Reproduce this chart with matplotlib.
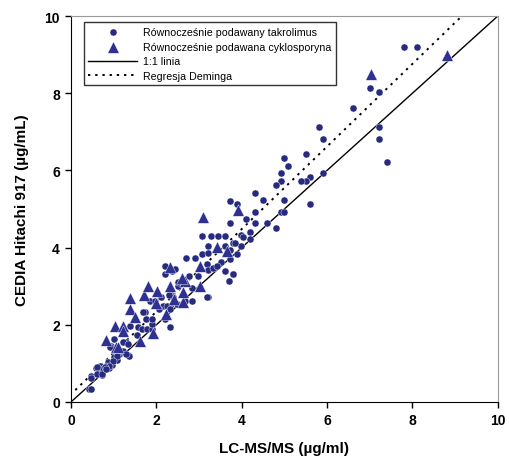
import numpy as np
from matplotlib import pyplot as plt

# Równocześnie podawany takrolimus (x: LC-MS/MS, y: CEDIA)
tac_x = [7.81, 8.10, 7.00, 7.21, 6.60, 7.21, 7.21, 7.40, 5.82, 5.90, 5.50, 5.00,
         5.09, 4.92, 5.90, 5.60, 5.50, 5.40, 4.92, 4.80, 4.31, 4.51, 5.00, 5.60,
         3.72, 3.90, 4.31, 4.92, 5.00, 4.10, 3.72, 4.31, 4.60, 4.80, 3.99, 4.19,
         4.19, 3.79, 3.99, 3.72, 3.90, 3.72, 3.79,
         3.08, 3.29, 3.45, 3.61, 3.20, 3.61, 3.84, 4.04, 2.69, 2.90, 3.08, 3.22,
         3.51, 3.18, 2.20, 2.20, 2.36, 2.44, 3.22, 3.33, 3.41, 3.61, 3.80, 2.98,
         2.77, 3.71, 2.51, 2.51, 2.83, 3.22, 3.18, 2.32, 2.40, 2.12, 2.32, 2.48,
         2.67, 2.83, 2.32, 2.16,
         1.73, 1.76, 1.58, 1.54, 2.20, 2.24, 2.06, 1.66, 1.85, 1.97, 2.30, 1.38,
         1.77, 1.89, 1.69, 1.89, 1.89, 2.32, 1.01, 1.30, 0.94, 1.17, 1.34, 1.01,
         1.07, 0.86, 0.95, 0.68, 0.81, 0.89, 0.58, 0.72, 0.64, 0.72, 0.47, 0.48,
         1.37, 1.22, 1.30, 1.07, 0.99, 0.90, 0.80, 0.60, 0.60, 0.72, 0.82, 1.22,
         1.34, 0.91, 0.41, 0.48]
tac_y = [9.21, 9.21, 8.13, 8.02, 7.62, 7.13, 6.81, 6.21, 7.13, 6.81, 6.42, 6.33,
         6.11, 5.92, 5.92, 5.82, 5.73, 5.73, 5.73, 5.63, 5.41, 5.22, 5.22, 5.12,
         5.21, 5.12, 4.93, 4.93, 4.93, 4.73, 4.64, 4.64, 4.64, 4.51, 4.32, 4.41,
         4.22, 4.13, 4.03, 3.94, 3.84, 3.70, 3.32,
         4.31, 4.31, 4.31, 4.31, 4.05, 4.05, 4.12, 4.27, 3.72, 3.72, 3.83, 3.85,
         3.63, 3.58, 3.52, 3.32, 3.40, 3.45, 3.43, 3.46, 3.52, 3.40, 3.32, 3.26,
         3.26, 3.14, 3.01, 3.10, 2.95, 2.71, 2.71, 2.82, 2.71, 2.71, 2.49, 2.54,
         2.62, 2.62, 1.94, 2.49,
         2.34, 2.15, 1.94, 1.74, 2.15, 2.49, 2.41, 1.89, 2.62, 2.62, 2.77, 1.98,
         1.89, 1.89, 2.32, 2.02, 2.15, 2.41, 1.63, 1.56, 1.46, 1.30, 1.22, 1.16,
         1.10, 1.03, 0.96, 0.94, 0.92, 0.87, 0.87, 0.85, 0.75, 0.70, 0.67, 0.62,
         1.20, 1.33, 1.24, 1.20, 1.07, 0.94, 0.90, 0.90, 0.72, 0.72, 0.85, 1.55,
         1.50, 1.42, 0.34, 0.34]

# Równocześnie podawana cyklosporyna
csa_x = [0.82, 1.03, 1.22, 1.22, 1.05, 1.11, 1.38, 1.38, 1.50, 1.62, 1.91, 1.71,
         1.81, 2.02, 1.99, 2.32, 2.22, 2.41, 2.67, 2.63, 3.02, 3.02, 3.41, 3.65,
         3.10, 3.92, 2.33, 2.61, 2.63, 7.02, 8.80]
csa_y = [1.61, 1.98, 1.98, 1.84, 1.42, 1.42, 2.41, 2.69, 2.19, 1.59, 1.79, 2.77,
         3.01, 2.88, 2.56, 3.00, 2.28, 2.67, 3.14, 2.58, 3.01, 3.52, 4.01, 3.90,
         4.78, 4.98, 3.49, 3.20, 2.86, 8.49, 8.99]

# Regresja Deminga (nachylenie, wyraz wolny, zakres)
deming_slope = 1.07
deming_icpt = 0.2
deming_range = [0.1, 9.15]

navy = '#272b80'

plt.rcParams['font.family'] = ['Liberation Sans', 'DejaVu Sans']

fig = plt.figure(figsize=(5.09, 4.60), dpi=100)
ax = fig.add_axes([0.1395, 0.124, 0.8385, 0.839])

# linie
ax.plot([0, 10], [0, 10], color='black', lw=1.0, label='1:1 linia')
dx = np.array(deming_range)
ax.plot(dx, deming_icpt + deming_slope * dx, color='black', lw=1.4,
        linestyle=(0, (1.2, 2.5)), label='Regresja Deminga')

# punkty
ax.scatter(tac_x, tac_y, s=26, color=navy, edgecolors='white', linewidths=0.3,
           label='Równocześnie podawany takrolimus', zorder=3)
ax.scatter(csa_x, csa_y, s=70, marker='^', color='#2e3192', edgecolors='white',
           linewidths=0.3, label='Równocześnie podawana cyklosporyna', zorder=3)

# osie
ax.set_xlim(0, 10)
ax.set_ylim(0, 10)
ax.set_xticks([0, 2, 4, 6, 8, 10])
ax.set_yticks([0, 2, 4, 6, 8, 10])
ax.tick_params(direction='out', length=4, width=1, labelsize=10, pad=4)
for lab in ax.get_xticklabels() + ax.get_yticklabels():
    lab.set_fontweight('bold')
ax.spines['left'].set_color('black')
ax.spines['bottom'].set_color('black')
ax.spines['top'].set_color('#999999')
ax.spines['right'].set_color('#999999')
ax.set_xlabel('LC-MS/MS (µg/ml)', fontsize=11, fontweight='bold', labelpad=10)
ax.set_ylabel('CEDIA Hitachi 917 (µg/mL)', fontsize=11, fontweight='bold', labelpad=11)

# legenda
h, l = ax.get_legend_handles_labels()
order = [2, 3, 0, 1]
leg = ax.legend([h[i] for i in order], [l[i] for i in order], loc='upper left',
                fontsize=7.7, frameon=True, fancybox=False, edgecolor='black',
                handlelength=4.6, handletextpad=0.55, borderaxespad=0.6,
                labelspacing=0.45, bbox_to_anchor=(0.015, 1.0))
leg.get_frame().set_linewidth(1.0)

fig.savefig('out.png', dpi=100)
